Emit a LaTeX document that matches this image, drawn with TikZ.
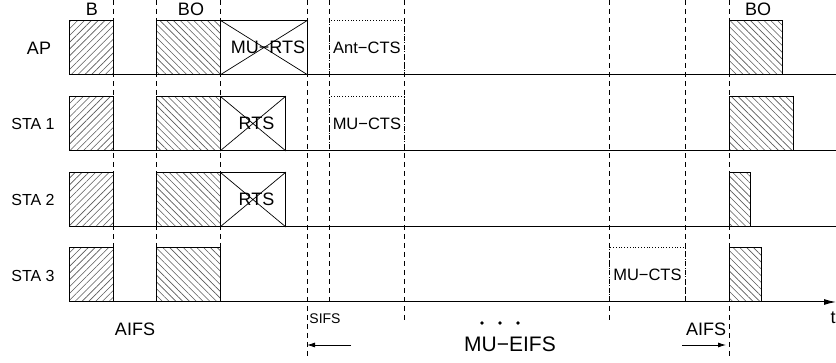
\documentclass[tikz,border=0pt]{standalone}
\usepackage{fontspec}
\setmainfont{Liberation Sans}
\usetikzlibrary{patterns.meta,arrows.meta}
\tikzset{
  frame/.style={draw, line width=0.9pt, inner sep=0pt, anchor=south west},
  hatchne/.style={frame, pattern={Lines[angle=45,distance=4.8pt,line width=0.6pt]}, pattern color=black!65},
  hatchnw/.style={frame, pattern={Lines[angle=-45,distance=4.8pt,line width=0.6pt]}, pattern color=black!65},
  xbox/.style={frame},
  ctsbox/.style={draw, dotted, line width=0.8pt, inner sep=0pt, anchor=south west},
  baseline/.style={line width=1pt},
  vdash/.style={line width=0.8pt, dash pattern=on 5pt off 4pt},
  big/.style={font=\fontsize{18}{20}\selectfont},
  mid/.style={font=\fontsize{16.5}{18}\selectfont},
  sta/.style={font=\fontsize{16}{18}\selectfont},
  small/.style={font=\fontsize{14}{16}\selectfont},
  huge/.style={font=\fontsize{21}{24}\selectfont},
  arr/.style={line width=0.8pt, -{Latex[length=8pt,width=5pt]}},
  dotn/.style={circle, fill=black, inner sep=0pt, minimum size=3.6pt},
}
\begin{document}
\begin{tikzpicture}[x=1pt,y=-1pt]
\useasboundingbox (0,0) rectangle (836,363);

% row labels
\node[big] (lAP) at (39,48) {AP};
\node[sta] (l1) at (33,124) {STA 1};
\node[sta] (l2) at (33,200) {STA 2};
\node[sta] (l3) at (33,276) {STA 3};

% top labels
\node[big] (tB) at (92,9.5) {B};
\node[big] (tBO) at (191,9.5) {BO};
\node[big] (tBO2) at (758,9.5) {BO};

% vertical dashed lines
\coordinate (v1t) at (113,0);   \coordinate (v1b) at (113,302);
\coordinate (v2t) at (156,0);   \coordinate (v2b) at (156,302);
\coordinate (v3t) at (220,0);   \coordinate (v3b) at (220,302);
\coordinate (v4t) at (307,0);   \coordinate (v4b) at (307,357);
\coordinate (v5t) at (329,0);   \coordinate (v5b) at (329,302);
\coordinate (v6t) at (404,0);   \coordinate (v6b) at (404,323);
\coordinate (v7t) at (609,0);   \coordinate (v7b) at (609,323);
\coordinate (v8t) at (685,0);   \coordinate (v8b) at (685,302);
\coordinate (v9t) at (729,0);   \coordinate (v9b) at (729,357);
\foreach \i in {1,...,9} {\draw[vdash] (v\i t) -- (v\i b);}

% baselines
\coordinate (s0) at (69,75);  \coordinate (e0) at (836,75);
\coordinate (s1) at (69,151); \coordinate (e1) at (836,151);
\coordinate (s2) at (69,227); \coordinate (e2) at (836,227);
\coordinate (s3) at (69,302); \coordinate (e3) at (836,302);
\draw[baseline] (s0) -- (e0);
\draw[baseline] (s1) -- (e1);
\draw[baseline] (s2) -- (e2);
\draw[baseline, -{Latex[length=12pt,width=6pt]}] (s3) -- (e3);

% AP row
\node[hatchne, minimum width=44pt, minimum height=54pt] (apB) at (69,75) {};
\node[hatchnw, minimum width=64pt, minimum height=54pt] (apBO) at (156,75) {};
\node[xbox, minimum width=87pt, minimum height=54pt,
      label={[big, xshift=4pt]center:MU−RTS}] (apRTS) at (220,75) {};
\draw[line width=0.7pt] (apRTS.north west) -- (apRTS.south east) (apRTS.south west) -- (apRTS.north east);
\node[ctsbox, minimum width=75pt, minimum height=54pt,
      label={[mid]center:Ant−CTS}] (apCTS) at (329,75) {};
\node[hatchnw, minimum width=53pt, minimum height=54pt] (apBO2) at (729,75) {};

% STA 1 row
\node[hatchne, minimum width=44pt, minimum height=54pt] (s1B) at (69,151) {};
\node[hatchnw, minimum width=64pt, minimum height=54pt] (s1BO) at (156,151) {};
\node[xbox, minimum width=65pt, minimum height=54pt,
      label={[big, xshift=3.5pt]center:RTS}] (s1RTS) at (220,151) {};
\draw[line width=0.7pt] (s1RTS.north west) -- (s1RTS.south east) (s1RTS.south west) -- (s1RTS.north east);
\node[ctsbox, minimum width=75pt, minimum height=54pt,
      label={[mid]center:MU−CTS}] (s1CTS) at (329,151) {};
\node[hatchnw, minimum width=64pt, minimum height=54pt] (s1BO2) at (729,151) {};

% STA 2 row
\node[hatchne, minimum width=44pt, minimum height=54pt] (s2B) at (69,227) {};
\node[hatchnw, minimum width=64pt, minimum height=54pt] (s2BO) at (156,227) {};
\node[xbox, minimum width=65pt, minimum height=54pt,
      label={[big, xshift=3.5pt]center:RTS}] (s2RTS) at (220,227) {};
\draw[line width=0.7pt] (s2RTS.north west) -- (s2RTS.south east) (s2RTS.south west) -- (s2RTS.north east);
\node[hatchnw, minimum width=21pt, minimum height=54pt] (s2BO2) at (729,227) {};

% STA 3 row
\node[hatchne, minimum width=44pt, minimum height=54pt] (s3B) at (69,302) {};
\node[hatchnw, minimum width=64pt, minimum height=54pt] (s3BO) at (156,302) {};
\node[ctsbox, minimum width=76pt, minimum height=54pt,
      label={[mid]center:MU−CTS}] (s3CTS) at (609,302) {};
\node[hatchnw, minimum width=32pt, minimum height=54pt] (s3BO2) at (729,302) {};

% bottom labels
\node[big] (aifs1) at (135,329) {AIFS};
\node[small] (sifs) at (325,319) {SIFS};
\node[big] (aifs2) at (706,329) {AIFS};
\node[big] (tt) at (833,318) {t};
\node[huge] (eifs) at (510,344) {MU−EIFS};
\node[dotn] (d1) at (482,323) {};
\node[dotn] (d2) at (500,323) {};
\node[dotn] (d3) at (518,323) {};

% arrows
\coordinate (la) at (351,345); \coordinate (lb) at (307,345);
\coordinate (ra) at (682,345); \coordinate (rb) at (726,345);
\draw[arr] (la) -- (lb);
\draw[arr] (ra) -- (rb);
\end{tikzpicture}
\end{document}
